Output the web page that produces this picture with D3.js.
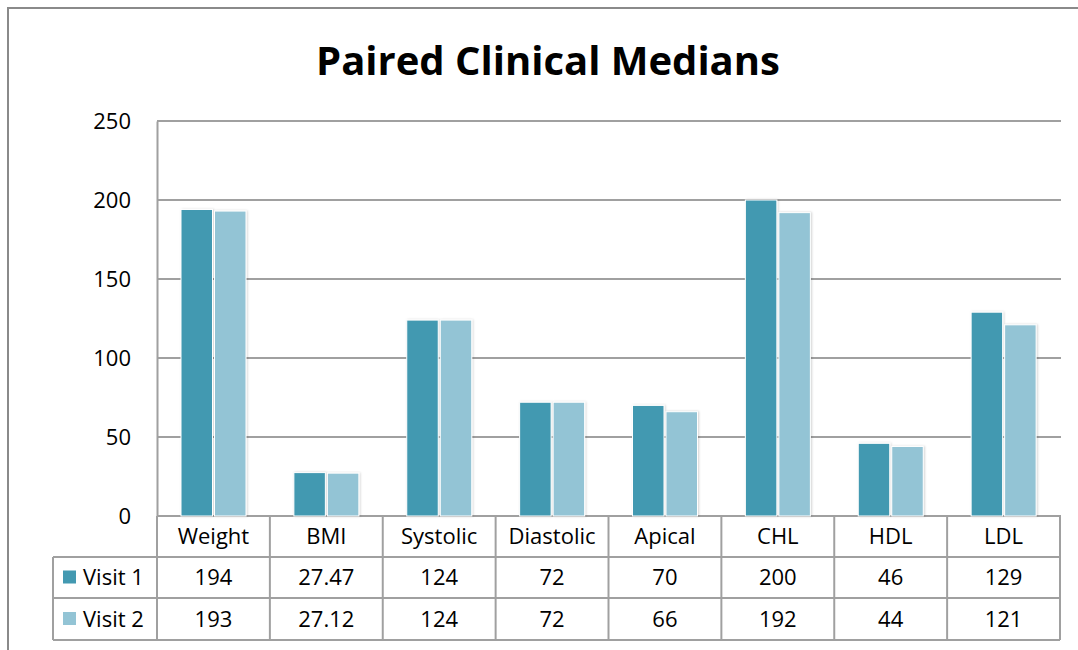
<!DOCTYPE html>
<html>
<head>
<meta charset="utf-8">
<script src="https://cdn.jsdelivr.net/npm/d3@7"></script>
<style>
  body { margin: 0; background: #fff; }
  text { font-family: "Open Sans", "Noto Sans", sans-serif; fill: #000; }
</style>
</head>
<body>
<div id="graphic"></div>
<script>
// data
const categories = ["Weight", "BMI", "Systolic", "Diastolic", "Apical", "CHL", "HDL", "LDL"];
const seriesNames = ["Visit 1", "Visit 2"];
const visit1 = [194, 27.47, 124, 72, 70, 200, 46, 129];
const visit2 = [193, 27.12, 124, 72, 66, 192, 44, 121];
const visit1Labels = ["194", "27.47", "124", "72", "70", "200", "46", "129"];
const visit2Labels = ["193", "27.12", "124", "72", "66", "192", "44", "121"];
const yTicks = [0, 50, 100, 150, 200, 250];

const colors = { "Visit 1": "#4399b1", "Visit 2": "#93c4d5" };
const gridColor = "#a0a0a0";

const W = 1078, H = 650;
const plot = { left: 157, right: 1060, top: 121, bottom: 516 };
const rowH = [41, 41, 42]; // header, visit 1, visit 2
const legendLeft = 53;

const svg = d3.select("#graphic").append("svg")
  .attr("width", W)
  .attr("height", H);

// shadow for bars
const defs = svg.append("defs");
const f = defs.append("filter").attr("id", "shadow")
  .attr("x", "-20%").attr("y", "-5%").attr("width", "140%").attr("height", "110%");
f.append("feDropShadow").attr("dx", 1).attr("dy", 0).attr("stdDeviation", 1.2)
  .attr("flood-color", "#000").attr("flood-opacity", 0.18);

// outer frame
svg.append("path")
  .attr("d", `M8,${H} L8,8 L${W},8`)
  .attr("fill", "none")
  .attr("stroke", "#8a8a8a")
  .attr("stroke-width", 2);

// title
svg.append("text")
  .attr("x", 548)
  .attr("y", 75)
  .attr("text-anchor", "middle")
  .attr("font-size", 40)
  .attr("font-weight", "bold")
  .text("Paired Clinical Medians");

const x = d3.scaleBand()
  .domain(categories)
  .range([plot.left, plot.right]);

const x1 = d3.scaleBand()
  .domain(seriesNames)
  .range([24, 89])
  .paddingInner(0.06);

const y = d3.scaleLinear()
  .domain([0, 250])
  .range([plot.bottom, plot.top]);

// gridlines
svg.append("g")
  .selectAll("line")
  .data(yTicks)
  .join("line")
  .attr("x1", plot.left)
  .attr("x2", plot.right + 1)
  .attr("y1", d => y(d))
  .attr("y2", d => y(d))
  .attr("stroke", gridColor)
  .attr("stroke-width", 2);

// y axis labels
const yAxis = d3.axisLeft(y).tickValues(yTicks).tickSize(0).tickPadding(26);
const gy = svg.append("g")
  .attr("transform", `translate(${plot.left},0)`)
  .call(yAxis);
gy.select(".domain").attr("stroke", gridColor).attr("stroke-width", 2);
gy.selectAll("text").attr("font-size", 22).attr("font-family", "'Open Sans', sans-serif").attr("fill", "#000");

// bars
const rows = categories.map((c, i) => ({ cat: c, vals: [visit1[i], visit2[i]] }));
const groups = svg.append("g").selectAll("g")
  .data(rows)
  .join("g")
  .attr("transform", d => `translate(${x(d.cat)},0)`);

groups.selectAll("rect")
  .data(d => d.vals.map((v, j) => ({ s: seriesNames[j], v })))
  .join("rect")
  .attr("x", d => x1(d.s))
  .attr("width", x1.bandwidth())
  .attr("y", d => y(d.v))
  .attr("height", d => y(0) - y(d.v))
  .attr("fill", d => colors[d.s])
  .attr("stroke", "#fff")
  .attr("stroke-width", 1)
  .attr("filter", "url(#shadow)");

// data table
const t0 = plot.bottom;
const t1 = t0 + rowH[0];
const t2 = t1 + rowH[1];
const t3 = t2 + rowH[2];
const table = svg.append("g")
  .attr("stroke", gridColor)
  .attr("stroke-width", 2)
  .attr("fill", "none");

// horizontal lines
table.append("line").attr("x1", legendLeft).attr("x2", plot.right).attr("y1", t1).attr("y2", t1);
table.append("line").attr("x1", legendLeft).attr("x2", plot.right).attr("y1", t2).attr("y2", t2);
table.append("line").attr("x1", legendLeft).attr("x2", plot.right).attr("y1", t3).attr("y2", t3);
// vertical lines
table.append("line").attr("x1", legendLeft).attr("x2", legendLeft).attr("y1", t1).attr("y2", t3);
table.selectAll(".vcol")
  .data(categories.map(c => x(c)).concat([plot.right]))
  .join("line")
  .attr("x1", d => d).attr("x2", d => d)
  .attr("y1", t0).attr("y2", t3);

// header text
svg.append("g").selectAll("text")
  .data(categories)
  .join("text")
  .attr("x", d => x(d) + x.bandwidth() / 2)
  .attr("y", t0 + rowH[0] / 2)
  .attr("dy", "0.36em")
  .attr("text-anchor", "middle")
  .attr("font-size", 22)
  .text(d => d);

// value rows
const rowData = [
  { s: "Visit 1", labels: visit1Labels, y: t1 + rowH[1] / 2 },
  { s: "Visit 2", labels: visit2Labels, y: t2 + rowH[2] / 2 }
];
rowData.forEach(r => {
  svg.append("g").selectAll("text")
    .data(r.labels)
    .join("text")
    .attr("x", (d, i) => x(categories[i]) + x.bandwidth() / 2)
    .attr("y", r.y)
    .attr("dy", "0.36em")
    .attr("text-anchor", "middle")
    .attr("font-size", 22)
    .text(d => d);

  // legend key
  svg.append("rect")
    .attr("x", 63)
    .attr("y", r.y - 7)
    .attr("width", 13)
    .attr("height", 13)
    .attr("fill", colors[r.s]);
  svg.append("text")
    .attr("x", 83)
    .attr("y", r.y)
    .attr("dy", "0.36em")
    .attr("font-size", 22)
    .text(r.s);
});
</script>
</body>
</html>
